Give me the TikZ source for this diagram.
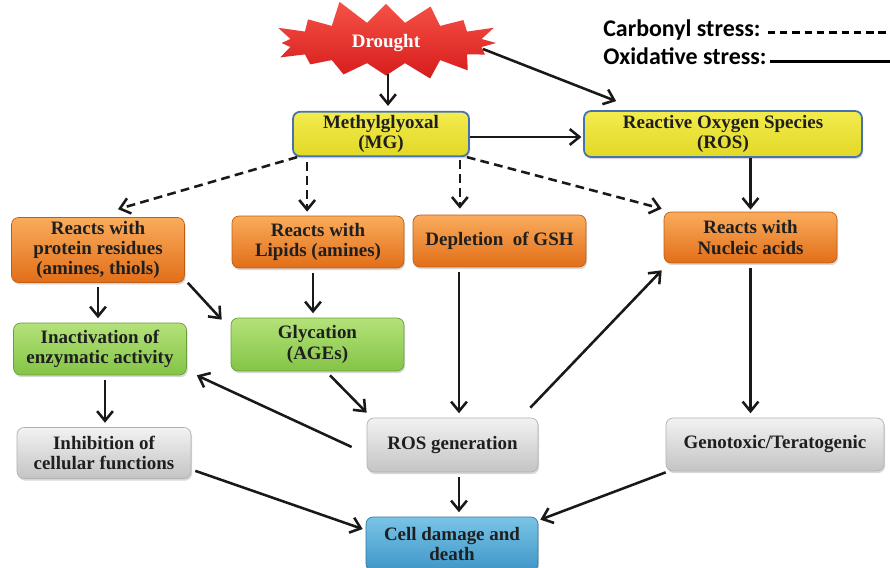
\documentclass[tikz,border=0pt]{standalone}
\usepackage{fontspec}
\setmainfont{Liberation Serif}
\newfontfamily\legendfont{Carlito}
\usetikzlibrary{arrows.meta,shapes.symbols,shadows}

\definecolor{yellowtop}{RGB}{242,236,78}
\definecolor{yellowbot}{RGB}{226,216,38}
\definecolor{mgborder}{RGB}{70,114,176}
\definecolor{orangetop}{RGB}{249,172,92}
\definecolor{orangebot}{RGB}{226,110,24}
\definecolor{greentop}{RGB}{180,226,122}
\definecolor{greenbot}{RGB}{132,196,70}
\definecolor{greytop}{RGB}{242,242,242}
\definecolor{greybot}{RGB}{196,196,196}
\definecolor{bluetop}{RGB}{122,196,230}
\definecolor{bluebot}{RGB}{62,150,200}
\definecolor{redtop}{RGB}{246,82,70}
\definecolor{redbot}{RGB}{214,28,28}

\tikzset{
  box/.style={rectangle,rounded corners=4pt,align=center,text=black!88,inner sep=2pt,
    font=\bfseries\fontsize{10.8}{11.5}\selectfont,
    drop shadow={opacity=0.3,shadow xshift=0.6pt,shadow yshift=-1.2pt}},
  yellowbox/.style={box,top color=yellowtop,bottom color=yellowbot,draw=mgborder,line width=1pt},
  orangebox/.style={box,top color=orangetop,bottom color=orangebot,draw=orangebot!85!black,line width=0.4pt,
    minimum width=3.46cm,minimum height=1.04cm},
  greenbox/.style={box,top color=greentop,bottom color=greenbot,draw=greenbot!80!black,line width=0.4pt,
    minimum width=3.46cm,minimum height=1.04cm},
  greybox/.style={box,top color=greytop,bottom color=greybot,draw=black!30,line width=0.4pt,
    minimum width=3.46cm,minimum height=1.04cm},
  bluebox/.style={box,top color=bluetop,bottom color=bluebot,draw=bluebot!80!black,line width=0.4pt},
  legend/.style={font=\legendfont\bfseries\fontsize{13.6}{15}\selectfont,inner sep=0pt},
  oxid/.style={-{Straight Barb[length=5.5pt,width=9pt]},line width=1.45pt,black!90},
  carb/.style={oxid,dash pattern=on 5pt off 3pt},
  gap/.style={shorten >=2.5pt,shorten <=2.5pt}
}

\begin{document}
\begin{tikzpicture}[x=0.02cm,y=-0.02cm]
\path[use as bounding box,fill=white] (0,0) rectangle (890,568);

\node[starburst,starburst points=16,starburst point height=0.5cm,random starburst=11,
  minimum width=4.9cm,minimum height=0.95cm,top color=redtop,bottom color=redbot,
  text=white,font=\bfseries\fontsize{10.8}{12}\selectfont] (drought) at (386,43) {Drought};

\node[legend,anchor=base west] (lgcarb) at (603,36) {Carbonyl stress:};
\node[legend,anchor=base west] (lgoxid) at (603,64) {Oxidative stress:};
\coordinate (lgend) at (890,0);
\draw[line width=1.7pt,dash pattern=on 4.2pt off 2.8pt] ([xshift=4pt,yshift=1.8pt]lgcarb.base east) -- ([yshift=1.8pt]lgcarb.base east -| lgend);
\draw[line width=1.7pt] ([xshift=2pt,yshift=1.5pt]lgoxid.base east) -- ([yshift=1.5pt]lgoxid.base east -| lgend);

\node[yellowbox,minimum width=3.52cm,minimum height=0.84cm] (mg) at (381,134) {Methylglyoxal\\(MG)};
\node[yellowbox,minimum width=5.56cm,minimum height=0.92cm] (ros) at (723,134) {Reactive Oxygen Species\\(ROS)};

\node[orangebox,minimum height=1.3cm] (protein) at (98,250) {Reacts with\\protein residues\\(amines, thiols)};
\node[orangebox,minimum width=3.44cm] (lipids) at (318,242) {Reacts with\\Lipids (amines)};
\node[orangebox] (gsh) at (499.5,241) {Depletion\ \ of GSH};
\node[orangebox,minimum height=1.02cm] (nucleic) at (750.5,237.5) {Reacts with\\Nucleic acids};

\node[greenbox] (inact) at (100,349) {Inactivation of\\enzymatic activity};
\node[greenbox,minimum height=1.06cm] (glyc) at (317.5,344.5) {Glycation\\(AGEs)};

\node[greybox,minimum width=3.48cm,minimum height=1.02cm] (inhib) at (104,453) {Inhibition of\\cellular functions};
\node[greybox,minimum width=3.42cm,minimum height=1.08cm] (rosgen) at (452.5,445) {ROS generation};
\node[greybox,minimum width=4.36cm,minimum height=1.06cm] (geno) at (775,444.5) {Genotoxic/Teratogenic};

\node[bluebox,minimum width=3.44cm,minimum height=1.08cm] (cell) at (452,544) {Cell damage and\\death};

\draw[oxid] ([xshift=0.04cm,yshift=-0.62cm]drought.center) -- ([xshift=0.04cm,yshift=0.1cm]drought.center |- mg.north);
\draw[oxid] ([xshift=1.94cm,yshift=-0.12cm]drought.center) -- ([xshift=0.66cm,yshift=0.18cm]ros.north west);
\draw[oxid] ([yshift=-0.06cm]mg.east) -- ([xshift=-1pt,yshift=-0.06cm]mg.east -| ros.west);

\draw[carb] ([xshift=0.1cm]mg.south west) -- ([xshift=0.4cm,yshift=0.16cm]protein.north);
\draw[carb] ([xshift=0.3cm,yshift=-0.1cm]mg.south west) -- ([xshift=0.3cm,yshift=0.08cm]mg.south west |- lipids.north);
\draw[carb] ([xshift=-0.2cm,yshift=-0.06cm]mg.south east) -- ([xshift=-0.2cm,yshift=0.12cm]mg.south east |- gsh.north);
\draw[carb] ([xshift=-0.06cm]mg.south east) -- ([xshift=-0.04cm,yshift=0.06cm]nucleic.north west);
\draw[oxid] (ros.south -| nucleic.north) -- ([yshift=0.04cm]nucleic.north);

\draw[oxid,gap] (protein.south) -- (protein.south |- inact.north);
\draw[oxid] ([xshift=0.06cm]protein.south east) -- ([xshift=-0.18cm,yshift=-0.04cm]glyc.north west);
\draw[oxid,gap] ([xshift=-0.1cm]lipids.south) -- ([xshift=-0.1cm]lipids.south |- glyc.north);
\draw[oxid,gap] ([xshift=0.1cm]inact.south) -- ([xshift=0.1cm]inact.south |- inhib.north);
\draw[oxid,gap] ([xshift=0.13cm]rosgen.north |- gsh.south) -- ([xshift=0.13cm]rosgen.north);
\draw[oxid] ([xshift=0.25cm,yshift=-0.08cm]glyc.south) -- ([yshift=0.1cm]rosgen.north west);
\draw[oxid] ([xshift=-0.3cm,yshift=-0.04cm]rosgen.west) -- ([xshift=0.2cm]inact.south east);
\draw[oxid] ([xshift=-0.16cm,yshift=0.2cm]rosgen.north east) -- ([xshift=-0.04cm,yshift=-0.14cm]nucleic.south west);
\draw[oxid,gap] (nucleic.south) -- (nucleic.south |- geno.north);

\draw[oxid] ([xshift=0.08cm,yshift=0.16cm]inhib.south east) -- ([xshift=-0.06cm,yshift=0.3cm]cell.west);
\draw[oxid,gap] ([xshift=0.13cm]rosgen.south) -- ([xshift=0.13cm]rosgen.south |- cell.north);
\draw[oxid] ([yshift=-0.02cm]geno.south west) -- ([xshift=0.04cm,yshift=-0.06cm]cell.north east);
\end{tikzpicture}
\end{document}
